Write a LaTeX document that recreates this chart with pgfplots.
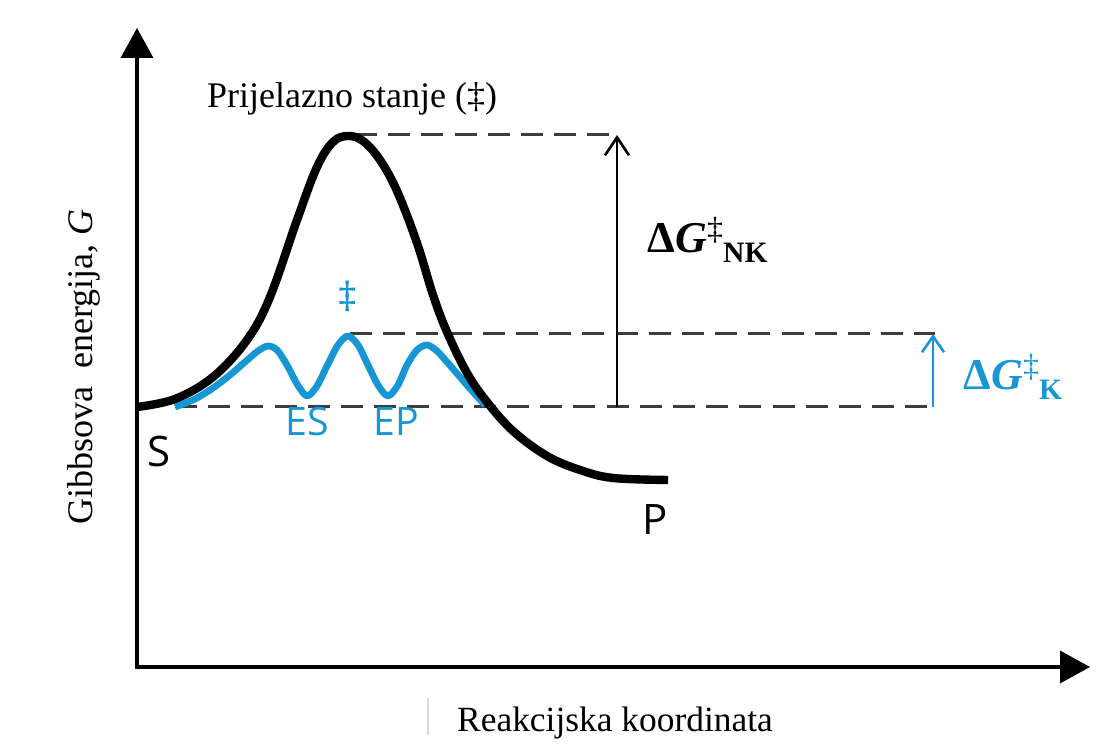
\documentclass[border=0pt]{standalone}
\usepackage{pgfplots}
\pgfplotsset{compat=1.18}
\usetikzlibrary{arrows.meta}
\usepackage{fontspec}
\setmainfont{Liberation Serif}
\newfontfamily\sansf{Open Sans}
\definecolor{kblue}{RGB}{22,150,212}
\definecolor{dgray}{RGB}{60,60,60}
\begin{document}
\begin{tikzpicture}
\begin{axis}[
  x=0.25pt, y=0.25pt,
  xmin=0, xmax=1099, ymin=0, ymax=742,
  hide axis, clip=false,
  every axis plot/.append style={line cap=butt, line join=round},
]
% bounding box
\addplot[draw=none] coordinates {(0,0) (1099,742)};
% axes
\addplot[black, line width=0.85pt, -{Triangle[length=7.5pt,width=8pt]}] coordinates {(137,73) (137,714)};
\addplot[black, line width=0.85pt, -{Triangle[length=7.5pt,width=8pt]}] coordinates {(136,75) (1090,75)};
% dashed reference lines
\addplot[dgray, line width=0.75pt, dash pattern=on 5.5pt off 2.8pt] coordinates {(355,607) (615,607)};
\addplot[dgray, line width=0.75pt, dash pattern=on 5.5pt off 2.8pt] coordinates {(350,408) (935,408)};
\addplot[dgray, line width=0.75pt, dash pattern=on 5.5pt off 2.8pt] coordinates {(175,335) (935,335)};
% arrows
\addplot[black, line width=0.65pt, -{Straight Barb[length=4.5pt,width=6pt]}] coordinates {(617,335) (617,607)};
\addplot[kblue, line width=0.65pt, -{Straight Barb[length=4pt,width=5.5pt]}] coordinates {(933,335) (933,408)};
% catalysed (blue) path
\addplot[kblue, line width=1.7pt, smooth, tension=0.5] coordinates {
 (175,335) (195,343) (213,354) (230,367) (245,380) (258,391) (268,396)
 (277,392) (287,377) (297,358) (307,346) (317,356) (327,376) (338,397)
 (348,406) (358,397) (367,379) (378,357) (388,346) (398,357) (407,377)
 (417,392) (427,397) (437,391) (447,380) (460,365) (473,350) (485,337)};
% uncatalysed (black) path
\addplot[black, line width=2.1pt, smooth, tension=0.6] coordinates {
 (137,335) (175,343) (213,365) (247,402) (270,445) (297,522) (317,575)
 (333,600) (348,606) (363,601) (380,582) (397,551) (417,499) (433,447)
 (447,410) (467,369) (487,340) (513,311) (547,286) (580,272) (613,264)
 (668,262)};
% faint artefact line
\addplot[black!15, line width=0.4pt] coordinates {(428,44) (428,7)};
% labels
\node[anchor=base, font=\fontsize{9}{11}\selectfont] at (axis cs:352,634) {Prijelazno stanje (‡)};
\node[anchor=base, font=\fontsize{8.85}{11}\selectfont] at (axis cs:615,10) {Reakcijska koordinata};
\node[rotate=90, anchor=center, font=\fontsize{9}{11}\selectfont] at (axis cs:84,375) {Gibbsova\ \ energija, \textit{G}};
\node[anchor=base west, inner sep=0pt] at (axis cs:647,489) {\fontsize{11}{13}\selectfont\bfseries Δ\textit{G}\raisebox{3.3pt}{\fontsize{8}{9}\selectfont\mdseries ‡}\raisebox{-2.5pt}{\fontsize{7.4}{8}\selectfont NK}};
\node[anchor=base west, inner sep=0pt, text=kblue] at (axis cs:963,352) {\fontsize{11}{13}\selectfont\bfseries Δ\textit{G}\raisebox{3.3pt}{\fontsize{8}{9}\selectfont\mdseries ‡}\raisebox{-2.5pt}{\fontsize{7.4}{8}\selectfont K}};
\node[anchor=base, font=\sansf\fontsize{10.5}{12}\selectfont] at (axis cs:159,275) {S};
\node[anchor=base, font=\sansf\fontsize{10.5}{12}\selectfont] at (axis cs:655,207) {P};
\node[anchor=base, text=kblue, font=\sansf\fontsize{9.8}{11}\selectfont] at (axis cs:307,306) {ES};
\node[anchor=base, text=kblue, font=\sansf\fontsize{9.8}{11}\selectfont] at (axis cs:396,306) {EP};
\node[anchor=center, text=kblue, font=\sansf\fontsize{10}{11}\selectfont] at (axis cs:348,446) {‡};
\end{axis}
\end{tikzpicture}
\end{document}
